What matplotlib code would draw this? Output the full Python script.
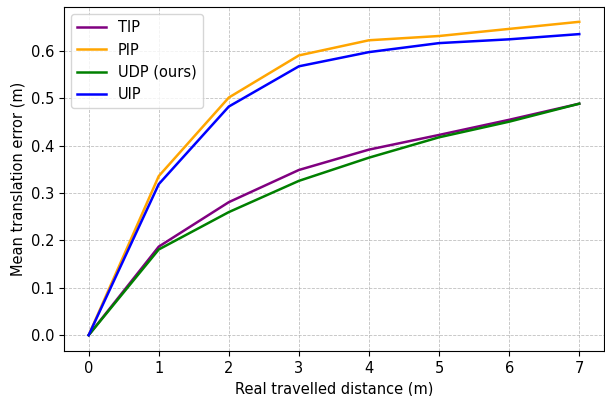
import matplotlib
matplotlib.use("Agg")
import matplotlib.pyplot as plt

dist = [0, 1, 2, 3, 4, 5, 6, 7]
tip = [0.0, 0.187, 0.281, 0.349, 0.392, 0.423, 0.455, 0.489]
pip = [0.0, 0.336, 0.502, 0.591, 0.623, 0.632, 0.647, 0.662]
udp = [0.0, 0.181, 0.260, 0.326, 0.375, 0.418, 0.451, 0.489]
uip = [0.0, 0.319, 0.483, 0.568, 0.598, 0.617, 0.625, 0.636]

plt.rcParams['font.size'] = 10.5

fig, ax = plt.subplots(figsize=(6.05, 3.96), dpi=100)
ax.plot(dist, tip, color='purple', lw=1.8, label='TIP')
ax.plot(dist, pip, color='orange', lw=1.8, label='PIP')
ax.plot(dist, udp, color='green', lw=1.8, label='UDP (ours)')
ax.plot(dist, uip, color='blue', lw=1.8, label='UIP')

ax.set_xlabel('Real travelled distance (m)')
ax.set_ylabel('Mean translation error (m)')
ax.set_xticks(dist)
ax.set_ylim(-0.034, 0.693)
ax.grid(True, linestyle='--', linewidth=0.6, color='#b0b0b0', alpha=0.8)
ax.legend(loc='upper left')

plt.subplots_adjust(left=0.106, right=0.998, top=0.982, bottom=0.113)
plt.savefig('out.png')
